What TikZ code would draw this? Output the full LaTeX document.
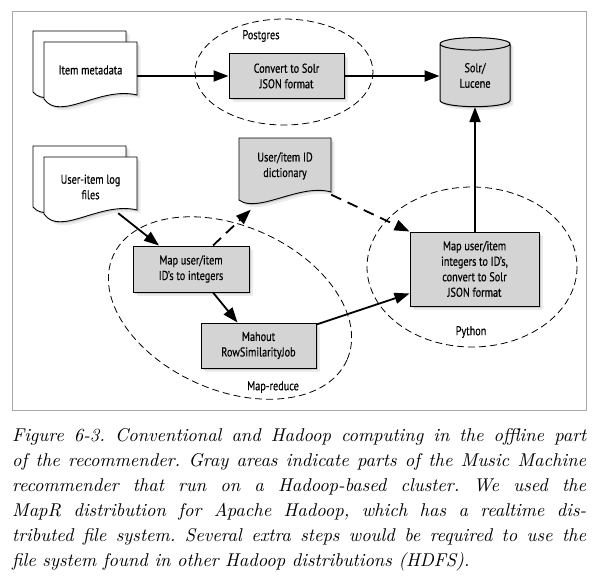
\documentclass[tikz,border=0pt]{standalone}
\usepackage{fontspec}
\setsansfont[FakeStretch=0.8,FakeBold=0.4]{PT Sans}
\newfontfamily\capfont{lmroman10-italic.otf}
\usepackage{xcolor}
\usepackage{tikz}
\usetikzlibrary{arrows.meta,shapes.geometric,shadows}
\definecolor{boxgray}{RGB}{212,212,212}
\definecolor{framegray}{RGB}{168,168,168}
\frenchspacing

\begin{document}
\begin{tikzpicture}[x=1pt,y=-1pt,font=\sffamily\fontsize{12.8}{15.5}\selectfont,
  softshadow/.style={drop shadow={shadow xshift=1.5pt,shadow yshift=-1.5pt,opacity=.3},
                     drop shadow={shadow xshift=3.5pt,shadow yshift=-3.5pt,opacity=.15}},
  sheet/.style={draw,line width=0.9pt,softshadow},
  doclabel/.style={inner sep=0pt,minimum width=93pt,minimum height=52pt,align=center},
  procbox/.style={draw,line width=1pt,fill=boxgray,inner sep=0pt,minimum width=115pt,minimum height=45pt,align=center,softshadow},
  store/.style={cylinder,shape border rotate=90,aspect=0.4,draw,line width=1pt,fill=boxgray,inner sep=0pt,minimum width=70pt,minimum height=69pt,align=center,softshadow},
  zone/.style={line width=0.8pt,dash pattern=on 7pt off 4pt},
  flow/.style={line width=1.8pt,-{Triangle[length=15pt,width=11pt]}},
  idflow/.style={flow,dash pattern=on 11pt off 7pt},
  capline/.style={anchor=base west,inner sep=0pt,font=\capfont\fontsize{18.5}{25}\selectfont}]
\useasboundingbox (0,0) rectangle (599,586);
\draw[framegray,line width=0.9pt] (12,11) rectangle (586,410);

\draw[zone] (284,72) ellipse [x radius=89, y radius=53];
\draw[zone,rotate around={-24:(230,308)}] (230,308) ellipse [x radius=128, y radius=82];
\draw[zone] (472,267) ellipse [x radius=105, y radius=80];

\foreach \dy in {0,115} {
  \draw[sheet,fill=white] (33,31+\dy) -- (126,31+\dy) -- (126,84+\dy) .. controls (89,75+\dy) and (49,111+\dy) .. (33,92+\dy) -- cycle;
  \draw[sheet,fill=white] (44,42+\dy) -- (137,42+\dy) -- (137,95+\dy) .. controls (100,86+\dy) and (60,122+\dy) .. (44,99+\dy) -- cycle;
}
\draw[sheet,fill=boxgray] (239,138) -- (331,138) -- (331,192) .. controls (300,183) and (258,214) .. (239,200) -- cycle;

\node[doclabel] (meta) at (90.5,70) {Item metadata};
\node[doclabel] (log) at (90.5,187) {User-item log\\files};
\node[doclabel,minimum width=92pt,minimum height=57pt] (dict) at (285,166) {User/item ID\\dictionary};
\node[procbox] (convert) at (286.5,76) {Convert to Solr\\JSON format};
\node[store] (solr) at (475,75.5) {Solr/\\Lucene};
\node[procbox,minimum width=116pt,minimum height=46pt] (tointeger) at (191,269) {Map user/item\\ID's to integers};
\node[procbox] (mahout) at (258.5,345.5) {Mahout\\RowSimilarityJob};
\node[procbox,minimum width=129pt,minimum height=74pt] (toid) at (474.5,269) {Map user/item\\integers to ID's,\\convert to Solr\\JSON format};

\node (pglabel) at (261,36) {Postgres};
\node (mrlabel) at (273,387) {Map-reduce};
\node (pylabel) at (471,332) {Python};

\draw[flow] (meta.east |- convert.west) -- (convert.west);
\draw[flow] (convert.east) -- (convert.east -| solr.west);
\draw[flow] (toid.north -| solr.south) -- (solr.south);
\draw[flow] ([xshift=-19pt]log.south east) -- ([xshift=-32pt]tointeger.north);
\draw[flow] ([xshift=22pt]tointeger.south) -- ([xshift=-21pt]mahout.north);
\draw[flow] ([yshift=-2pt]mahout.north east) -- ([yshift=13pt]toid.south west);
\draw[idflow] ([xshift=22pt]tointeger.north) -- ([shift={(12pt,-15pt)}]dict.south west);
\draw[idflow] (dict.south east) -- (toid.north west);

\foreach \txt [count=\i from 0] in {{Figure 6-3. Conventional and Hadoop computing in the offline part},
  {of the recommender. Gray areas indicate parts of the Music Machine},
  {recommender that run on a Hadoop-based cluster. We used the},
  {MapR distribution for Apache Hadoop, which has a realtime dis-},
  {tributed file system. Several extra steps would be required to use the}}
  \node[capline] (cap\i) at (12,441+25*\i) {\makebox[574pt][s]{\txt}};
\node[capline] (cap5) at (12,566) {file system found in other Hadoop distributions (HDFS).};
\end{tikzpicture}
\end{document}
